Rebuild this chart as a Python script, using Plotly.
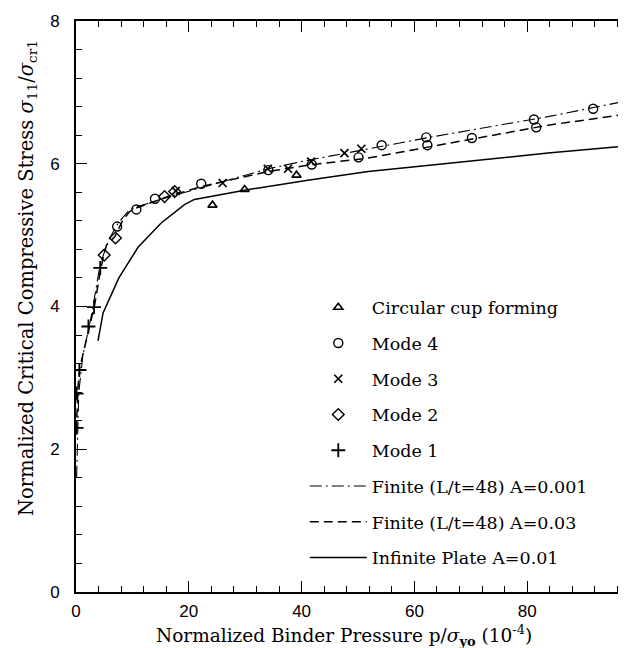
import plotly.graph_objects as go

# ---------------- data ----------------
cup_x = [24.2, 29.9, 39.1]
cup_y = [5.42, 5.64, 5.84]

mode4_x = [7.3, 10.7, 14.0, 22.2, 34.1, 41.8, 50.1, 54.2, 62.1, 62.3, 70.2, 81.2, 81.6, 91.7]
mode4_y = [5.12, 5.36, 5.51, 5.72, 5.91, 5.99, 6.09, 6.26, 6.37, 6.26, 6.36, 6.62, 6.51, 6.77]

mode3_x = [17.7, 26.0, 34.0, 37.6, 41.7, 47.6, 50.6]
mode3_y = [5.62, 5.73, 5.93, 5.93, 6.03, 6.15, 6.21]

mode2_x = [5.0, 7.0, 15.7, 17.5]
mode2_y = [4.72, 4.96, 5.54, 5.61]

mode1_x = [0.1, 0.1, 0.6, 2.2, 3.2, 4.3]
mode1_y = [2.30, 2.78, 3.11, 3.72, 3.99, 4.54]

fin001_x = [0.1, 0.5, 1.2, 2.8, 4.3, 5.9, 7.5, 9.3, 10.6, 17.5, 34.1, 41.2, 62.7, 83.7, 98.9]
fin001_y = [1.6, 2.8, 3.3, 3.9, 4.6, 4.95, 5.17, 5.34, 5.39, 5.56, 5.93, 6.05, 6.37, 6.66, 6.90]

fin003_x = [0.05, 0.35, 0.66, 1.8, 2.7, 3.3, 4.2, 4.8, 5.4, 6.9, 8.3, 9.5, 10.7, 16.3, 22.2, 34.0, 41.1, 51.8, 83.7, 98.9]
fin003_y = [2.25, 2.86, 3.14, 3.51, 3.84, 4.02, 4.44, 4.68, 4.86, 4.98, 5.21, 5.33, 5.38, 5.54, 5.68, 5.89, 5.98, 6.08, 6.54, 6.71]

inf_x = [3.9, 4.8, 7.6, 11.0, 15.1, 19.3, 21.0, 29.9, 41.1, 51.8, 62.7, 83.7, 98.9]
inf_y = [3.52, 3.91, 4.40, 4.83, 5.17, 5.43, 5.50, 5.63, 5.77, 5.89, 5.98, 6.15, 6.26]

x_ticks = [0, 20, 40, 60, 80]
y_ticks = [0, 2, 4, 6, 8]

x_title = "Normalized Binder Pressure p/<i>σ</i><sub><b>yo</b></sub> (10<sup>-4</sup>)"
y_title = "Normalized Critical Compressive Stress <i>σ</i><sub>11</sub>/<i>σ</i><sub>cr1</sub>"

SERIF = "DejaVu Serif"
SANS = "Liberation Sans"
BLACK = "black"

fig = go.Figure()

# lines
fig.add_trace(go.Scatter(x=fin001_x, y=fin001_y, mode="lines", name="Finite (L/t=48) A=0.001",
                         line=dict(color=BLACK, width=1.1, dash="12px,4px,2px,4px"),
                         legendgroup="g6", legendrank=6))
fig.add_trace(go.Scatter(x=fin003_x, y=fin003_y, mode="lines", name="Finite (L/t=48) A=0.03",
                         line=dict(color=BLACK, width=1.5, dash="9px,5px"),
                         legendgroup="g7", legendrank=7))
fig.add_trace(go.Scatter(x=inf_x, y=inf_y, mode="lines", name="Infinite Plate A=0.01",
                         line=dict(color=BLACK, width=1.5),
                         legendgroup="g8", legendrank=8))

fig.add_trace(go.Scatter(x=cup_x, y=cup_y, mode="markers", name="Circular cup forming",
                         marker=dict(symbol="triangle-up-open", size=8, color=BLACK, line=dict(width=1.6)),
                         legendgroup="g1", legendrank=1))
fig.add_trace(go.Scatter(x=mode4_x, y=mode4_y, mode="markers", name="Mode 4",
                         marker=dict(symbol="circle-open", size=9, color=BLACK, line=dict(width=1.4)),
                         legendgroup="g2", legendrank=2))
fig.add_trace(go.Scatter(x=mode3_x, y=mode3_y, mode="markers", name="Mode 3",
                         marker=dict(symbol="x-thin-open", size=8, color=BLACK, line=dict(width=1.7)),
                         legendgroup="g3", legendrank=3))
fig.add_trace(go.Scatter(x=mode2_x, y=mode2_y, mode="markers", name="Mode 2",
                         marker=dict(symbol="diamond-open", size=9, color=BLACK, line=dict(width=1.4)),
                         legendgroup="g4", legendrank=4))
fig.add_trace(go.Scatter(x=mode1_x, y=mode1_y, mode="markers", name="Mode 1",
                         marker=dict(symbol="cross-thin-open", size=10, color=BLACK, line=dict(width=1.8)),
                         legendgroup="g5", legendrank=5))

# invisible trace for right-side ticks
fig.add_trace(go.Scatter(x=[None], y=[None], yaxis="y2", showlegend=False, hoverinfo="skip"))

fig.update_layout(
    width=626, height=648,
    margin=dict(l=68, r=0, t=13, b=64, autoexpand=False),
    paper_bgcolor="white", plot_bgcolor="white",
    font=dict(family=SERIF, color=BLACK, size=17),
    legend=dict(x=0.41, y=0.53, xanchor="left", yanchor="top",
                bgcolor="rgba(0,0,0,0)", itemwidth=57, tracegroupgap=10,
                font=dict(family=SERIF, size=17.5), traceorder="grouped"),
    xaxis=dict(range=[0, 98.94], showgrid=False, zeroline=False, automargin=False,
               showline=True, linecolor=BLACK, linewidth=1.8, mirror="ticks",
               ticks="inside", ticklen=11, tickwidth=1.3, tickcolor=BLACK,
               tickvals=x_ticks, ticktext=[str(v) for v in x_ticks],
               tickfont=dict(family=SANS, size=17), ticklabelstandoff=3,
               minor=dict(dtick=4, tick0=0, ticks="inside", ticklen=6, tickwidth=1.1, tickcolor=BLACK)),
    yaxis=dict(range=[0, 8], showgrid=False, zeroline=False, automargin=False,
               showline=True, linecolor=BLACK, linewidth=1.8, mirror=False,
               ticks="inside", ticklen=11, tickwidth=1.3, tickcolor=BLACK,
               tickvals=y_ticks, ticktext=[str(v) for v in y_ticks],
               tickfont=dict(family=SANS, size=17), ticklabelstandoff=11,
               minor=dict(dtick=0.4, tick0=0, ticks="inside", ticklen=6, tickwidth=1.1, tickcolor=BLACK)),
    yaxis2=dict(range=[0, 8], overlaying="y", side="right", showgrid=False, zeroline=False,
                showline=False, ticks="inside", ticklen=5, tickwidth=1.3, tickcolor=BLACK,
                tickvals=[2, 4, 6], showticklabels=False, automargin=False),
    annotations=[
        dict(text=x_title, xref="paper", yref="paper", x=0.48, y=-0.076,
             xanchor="center", yanchor="middle", showarrow=False,
             font=dict(family=SERIF, size=18.5, color=BLACK)),
        dict(text=y_title, xref="paper", yref="paper", x=-0.086, y=0.55,
             xanchor="center", yanchor="middle", showarrow=False, textangle=-90,
             font=dict(family=SERIF, size=19.5, color=BLACK)),
    ],
)

fig.write_html("out.html")
